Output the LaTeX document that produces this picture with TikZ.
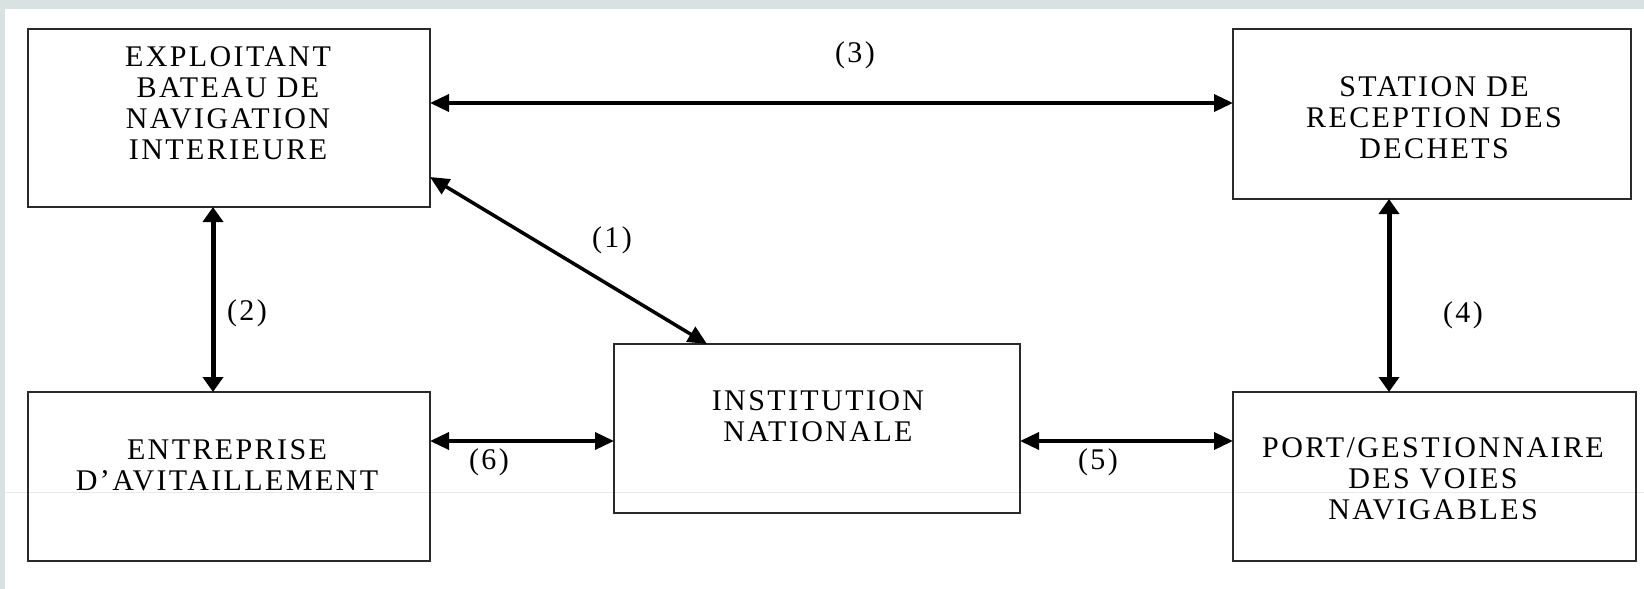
\documentclass[tikz,border=0pt]{standalone}
\usepackage{fontspec}
\setmainfont{Liberation Serif}[LetterSpace=8]
\usetikzlibrary{arrows.meta}
\definecolor{bggray}{HTML}{D9E2E0}
\definecolor{faint}{HTML}{E6EAEA}
\definecolor{boxline}{HTML}{2A2A2A}
\tikzset{
  box/.style={draw=boxline, line width=2.2pt, rectangle, inner sep=0pt, outer sep=0pt},
  txt/.style={align=center, inner sep=0pt, font=\fontsize{30}{31}\selectfont},
  lbl/.style={inner sep=0pt, font=\fontsize{30}{31}\selectfont},
  arr/.style={line width=3.5pt, {Triangle[length=19pt,width=17pt]}-{Triangle[length=19pt,width=17pt]}},
  varr/.style={line width=5pt, {Triangle[length=15pt,width=20pt]}-{Triangle[length=15pt,width=20pt]}}
}
\begin{document}
\begin{tikzpicture}[x=1pt,y=-1pt]
\useasboundingbox (0,0) rectangle (1644,589);
\fill[bggray] (0,0) rectangle (1644,589);
\fill[white] (5,9) rectangle (1644,589);
\draw[faint, line width=1pt] (5,492) -- (1644,492);

% boxes
\node[box, minimum width=402pt, minimum height=178pt] (b1) at (229,118) {};
\node[box, minimum width=398pt, minimum height=170pt] (b2) at (1432,114) {};
\node[box, minimum width=402pt, minimum height=169pt] (b3) at (229,476.5) {};
\node[box, minimum width=406pt, minimum height=169pt] (b4) at (817,428.5) {};
\node[box, minimum width=403pt, minimum height=169pt] (b5) at (1434.5,476.5) {};

% texts
\node[txt] (t1) at (228,103) {EXPLOITANT\\BATEAU DE\\NAVIGATION\\INTERIEURE};
\node[txt] (t2) at (1434,118) {STATION DE\\RECEPTION DES\\DECHETS};
\node[txt] (t3) at (227,465) {ENTREPRISE\\D’AVITAILLEMENT};
\node[txt] (t4) at (818,416) {INSTITUTION\\NATIONALE};
\node[txt] (t5) at (1433,479) {PORT/GESTIONNAIRE\\DES VOIES\\NAVIGABLES};

% connectors
\draw[arr] ([yshift=15pt]b1.east) -- ([yshift=11pt]b2.west);
\draw[arr] ([yshift=-59pt]b1.east) -- ([xshift=-110pt]b4.north);
\draw[varr] ([xshift=-16pt]b1.south) -- ([xshift=-16pt]b3.north);
\draw[varr] ([xshift=-43pt]b2.south) -- ([xshift=-45.5pt]b5.north);
\draw[arr] ([yshift=-12.5pt]b4.east) -- ([yshift=35.5pt]b5.west);
\draw[arr] ([yshift=35.5pt]b3.east) -- ([yshift=-12.5pt]b4.west);

% labels
\node[lbl] (l1) at (612,240) {(1)};
\node[lbl] (l2) at (247,313) {(2)};
\node[lbl] (l3) at (855,55) {(3)};
\node[lbl] (l4) at (1463,315) {(4)};
\node[lbl] (l5) at (1098,462) {(5)};
\node[lbl] (l6) at (489,462) {(6)};
\end{tikzpicture}
\end{document}
